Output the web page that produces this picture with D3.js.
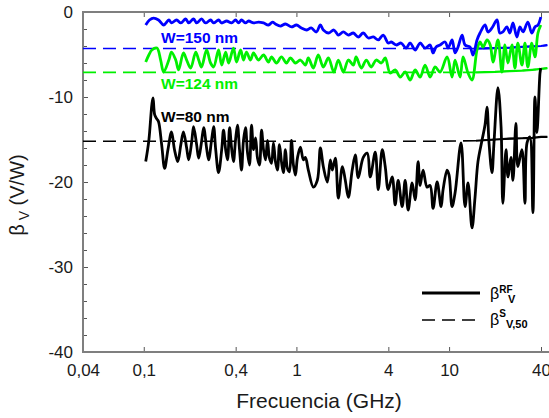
<!DOCTYPE html>
<html>
<head>
<meta charset="utf-8">
<script src="https://cdnjs.cloudflare.com/ajax/libs/d3/7.8.5/d3.min.js"></script>
<style>
  body { margin: 0; background: #fff; }
  svg { font-family: "Liberation Sans", Arial, sans-serif; }
</style>
</head>
<body>
<script>
// frequency (GHz) and beta (V/W)
var rf80 = [[0.103,-17.6],[0.108,-15.1],[0.113,-10.9],[0.115,-10.1],[0.118,-12.1],[0.122,-12.6],[0.125,-12.9],[0.131,-15.6],[0.137,-18.4],[0.144,-16.2],[0.152,-14.1],[0.159,-16.2],[0.167,-17.6],[0.175,-15.6],[0.182,-14.1],[0.191,-16.0],[0.197,-17.4],[0.206,-15.3],[0.212,-13.5],[0.222,-15.6],[0.229,-17.2],[0.239,-15.3],[0.247,-13.6],[0.258,-16.0],[0.266,-17.4],[0.278,-15.1],[0.287,-13.5],[0.296,-16.2],[0.309,-18.9],[0.324,-16.2],[0.333,-13.9],[0.344,-16.2],[0.354,-17.4],[0.365,-13.6],[0.376,-16.0],[0.387,-17.6],[0.399,-15.1],[0.411,-13.3],[0.424,-16.2],[0.437,-18.6],[0.450,-15.1],[0.464,-13.6],[0.478,-16.5],[0.493,-18.0],[0.508,-13.3],[0.524,-16.2],[0.540,-14.8],[0.556,-17.2],[0.573,-18.0],[0.591,-13.9],[0.609,-16.2],[0.628,-17.4],[0.646,-15.1],[0.666,-17.2],[0.687,-17.8],[0.707,-15.4],[0.729,-17.6],[0.751,-18.6],[0.774,-15.6],[0.798,-17.6],[0.822,-18.9],[0.847,-16.2],[0.873,-18.4],[0.900,-18.8],[0.928,-15.1],[0.956,-18.0],[0.985,-19.2],[1.015,-17.2],[1.062,-15.9],[1.111,-17.4],[1.145,-17.1],[1.197,-18.6],[1.291,-20.6],[1.371,-19.8],[1.435,-16.0],[1.501,-18.2],[1.594,-20.0],[1.668,-17.4],[1.719,-18.6],[1.799,-17.2],[1.882,-21.9],[2.000,-18.2],[2.09,-19.8],[2.188,-21.8],[2.32,-18.6],[2.430,-16.8],[2.541,-19.5],[2.741,-17.1],[2.911,-16.6],[3.046,-19.4],[3.283,-16.5],[3.436,-20.9],[3.649,-16.2],[3.818,-18.2],[3.993,-20.9],[4.240,-19.4],[4.436,-22.7],[4.640,-19.8],[4.929,-22.9],[5.156,-19.8],[5.395,-23.3],[5.729,-20.1],[5.993,-22.1],[6.269,-17.6],[6.460,-20.4],[6.758,-18.6],[7.178,-20.6],[7.509,-20.4],[7.855,-23.1],[8.347,-20.0],[8.865,-22.9],[9.136,-20.9],[9.703,-18.6],[10.0,-19.2],[10.46,-22.9],[10.94,-21.3],[11.98,-15.4],[12.72,-22.9],[13.31,-20.1],[14.13,-25.4],[14.79,-21.8],[15.46,-17.6],[16.43,-15.1],[17.19,-13.3],[17.72,-11.2],[18.26,-15.4],[19.10,-18.9],[19.68,-15.4],[20.9,-8.9],[21.9,-13.5],[22.5,-22.5],[23.6,-16.2],[24.3,-19.4],[25.4,-17.1],[26.2,-19.8],[27.4,-13.1],[28.2,-18.2],[30.0,-16.2],[31.4,-22.5],[32.4,-15.4],[33.8,-14.7],[35.4,-23.6],[36.5,-10.0],[37.6,-14.2],[39.4,-7.2],[39.9,-6.6]];

var rf150 = [[0.103,-1.53],[0.109,-0.94],[0.116,-0.71],[0.125,-0.94],[0.135,-1.53],[0.146,-0.94],[0.152,-1.29],[0.164,-0.94],[0.175,-1.29],[0.188,-0.82],[0.197,-1.29],[0.212,-0.82],[0.222,-1.29],[0.239,-0.82],[0.254,-1.29],[0.274,-0.94],[0.287,-1.29],[0.309,-0.94],[0.324,-1.29],[0.349,-1.06],[0.376,-1.29],[0.399,-0.94],[0.418,-1.29],[0.437,-0.94],[0.464,-1.29],[0.486,-1.06],[0.524,-1.29],[0.564,-1.18],[0.609,-1.29],[0.656,-1.53],[0.697,-1.18],[0.729,-1.41],[0.786,-1.65],[0.847,-1.41],[0.928,-1.76],[1.00,-1.53],[1.078,-1.88],[1.17,-2.12],[1.25,-1.88],[1.35,-2.35],[1.435,-1.53],[1.501,-2.12],[1.62,-2.47],[1.76,-2.12],[1.882,-2.71],[2.03,-2.35],[2.188,-2.71],[2.36,-2.47],[2.541,-2.94],[2.741,-2.47],[2.96,-3.06],[3.19,-2.94],[3.436,-3.29],[3.70,-2.71],[3.993,-3.65],[4.18,-3.53],[4.50,-3.88],[4.85,-3.65],[5.23,-4.24],[5.56,-3.65],[5.993,-4.47],[6.460,-3.65],[6.96,-4.24],[7.509,-3.88],[7.855,-4.82],[8.22,-4.12],[8.73,-3.88],[9.42,-3.53],[9.85,-4.24],[10.46,-3.29],[10.94,-4.82],[11.45,-4.12],[12.17,-2.71],[12.72,-3.88],[13.71,-4.12],[14.35,-5.06],[15.24,-3.29],[15.94,-2.47],[17.19,-1.53],[17.99,-2.35],[19.10,-1.88],[20.6,-0.94],[21.5,-2.47],[22.5,-2.35],[23.9,-1.76],[25.0,-2.47],[26.2,-1.29],[27.8,-2.94],[29.1,-1.76],[30.5,-2.35],[32.8,-1.18],[34.8,-2.47],[36.5,-1.76],[38.2,-1.53],[39.9,-0.59]];

var rf124 = [[0.103,-5.88],[0.108,-5.06],[0.113,-4.47],[0.122,-4.24],[0.129,-5.65],[0.135,-7.06],[0.146,-5.65],[0.152,-4.71],[0.162,-5.65],[0.169,-6.82],[0.182,-4.82],[0.191,-5.65],[0.203,-6.59],[0.219,-4.71],[0.229,-5.65],[0.239,-6.47],[0.258,-4.47],[0.274,-6.0],[0.287,-6.47],[0.309,-4.47],[0.324,-6.24],[0.344,-4.71],[0.36,-6.0],[0.387,-4.24],[0.405,-5.88],[0.431,-4.47],[0.450,-5.65],[0.471,-4.71],[0.500,-5.65],[0.524,-4.82],[0.564,-5.65],[0.609,-5.06],[0.656,-5.88],[0.687,-5.29],[0.740,-6.0],[0.798,-5.29],[0.860,-6.0],[0.914,-5.41],[0.985,-6.0],[1.062,-5.65],[1.145,-6.24],[1.197,-5.41],[1.291,-6.59],[1.39,-5.06],[1.501,-6.47],[1.62,-5.41],[1.76,-7.06],[1.882,-5.65],[2.03,-7.06],[2.188,-5.65],[2.36,-6.24],[2.46,-5.29],[2.66,-6.59],[2.87,-5.65],[3.09,-6.47],[3.33,-5.65],[3.60,-6.0],[3.818,-5.41],[4.11,-7.18],[4.436,-6.82],[4.79,-7.65],[5.156,-7.06],[5.56,-8.0],[5.993,-6.82],[6.460,-7.65],[6.96,-6.24],[7.509,-7.65],[8.10,-6.47],[8.73,-7.06],[9.703,-5.29],[10.46,-7.65],[10.94,-5.65],[11.80,-7.65],[12.35,-5.29],[13.31,-7.18],[14.13,-8.0],[15.24,-4.47],[15.94,-3.53],[16.7,-4.12],[17.72,-3.29],[18.6,-3.88],[19.4,-5.88],[20.9,-3.29],[22.2,-7.06],[23.2,-3.88],[24.3,-6.0],[25.8,-3.88],[27.0,-6.59],[28.2,-3.65],[30.0,-6.24],[31.4,-3.65],[32.8,-6.47],[34.8,-3.65],[36.5,-5.29],[38.2,-2.47],[39.9,-1.53]];

// static (S-parameter) beta, 50 ohm
var freqS = [0.04, 2, 8, 15, 20, 25, 30, 35, 40, 44];
var betaS150 = [-4.3, -4.3, -4.3, -4.3, -4.25, -4.2, -4.1, -4.05, -4.0, -3.9];
var betaS124 = [-7.1, -7.1, -7.1, -7.1, -7.05, -6.95, -6.9, -6.8, -6.7, -6.6];
var betaS80 = [-15.2, -15.2, -15.2, -15.15, -15.0, -14.9, -14.85, -14.8, -14.7, -14.7];

var xTicks = [0.04, 0.1, 0.4, 1, 4, 10, 40];
var yTicks = [-40, -30, -20, -10, 0];
var yMinor = [-38,-36,-34,-32,-28,-26,-24,-22,-18,-16,-14,-12,-8,-6,-4,-2];

var blue = '#0000ff', green = '#00f000', axisGray = '#7f7f7f';

var svg = d3.select('body').append('svg')
    .attr('width', 549)
    .attr('height', 418);

var x = d3.scaleLog().domain([0.04, 40]).range([83, 541]);
var y = d3.scaleLinear().domain([-40, 0]).range([352, 12]);

// axes (ticks point inside)
var gx = svg.append('g').attr('transform', 'translate(0,352)')
    .call(d3.axisBottom(x).tickValues(xTicks).tickSize(-5).tickSizeOuter(0).tickPadding(12)
      .tickFormat(function(d){ return String(d).replace('.', ','); }));
gx.selectAll('.tick').filter(function(d){ return d === 0.04; }).select('line').remove();

var gt = svg.append('g').attr('transform', 'translate(0,12)')
    .call(d3.axisTop(x).tickValues(xTicks.slice(1)).tickSize(-5).tickFormat(''));

var gy = svg.append('g').attr('transform', 'translate(83,0)')
    .call(d3.axisLeft(y).tickValues(yTicks).tickSize(-5).tickPadding(10)
      .tickFormat(function(d){ return String(d); }));
var gym = svg.append('g').attr('transform', 'translate(83,0)')
    .call(d3.axisLeft(y).tickValues(yMinor).tickSize(-4).tickFormat(''));

svg.selectAll('.domain').remove();
svg.selectAll('.tick line').attr('stroke', '#555');
svg.selectAll('.tick text').attr('font-size', 17).attr('fill', '#1a1a1a')
   .attr('font-family', '"Liberation Sans", Arial, sans-serif');

// frame lines
svg.append('line').attr('x1', 83).attr('x2', 83).attr('y1', 12).attr('y2', 352)
   .attr('stroke', axisGray).attr('stroke-width', 2);
svg.append('line').attr('x1', 82).attr('x2', 549).attr('y1', 352).attr('y2', 352)
   .attr('stroke', axisGray).attr('stroke-width', 2);
svg.append('line').attr('x1', 82).attr('x2', 549).attr('y1', 12).attr('y2', 12)
   .attr('stroke', axisGray).attr('stroke-width', 2);

// static beta lines
var sLine = d3.line().x(function(d){ return x(d[0]); }).y(function(d){ return y(d[1]); });
var sSets = [[betaS150, blue], [betaS124, green], [betaS80, '#000']];
sSets.forEach(function(s) {
  var pts = freqS.map(function(f, i){ return [f, s[0][i]]; });
  svg.append('path').attr('d', sLine(pts)).attr('fill', 'none')
     .attr('stroke', s[1]).attr('stroke-width', 1.6).attr('stroke-dasharray', '13,7');
  svg.append('path').attr('d', sLine(pts.filter(function(p){ return p[0] >= 15; })))
     .attr('fill', 'none').attr('stroke', s[1]).attr('stroke-width', 2.2);
});

// RF curves
var rfLine = d3.line().curve(d3.curveCatmullRom.alpha(0.5))
    .x(function(d){ return x(d[0]); }).y(function(d){ return y(d[1]); });

svg.append('path').attr('d', rfLine(rf80)).attr('fill', 'none')
   .attr('stroke', '#000').attr('stroke-width', 2.8).attr('stroke-linejoin', 'round');
svg.append('path').attr('d', rfLine(rf124)).attr('fill', 'none')
   .attr('stroke', green).attr('stroke-width', 2.8).attr('stroke-linejoin', 'round');
svg.append('path').attr('d', rfLine(rf150)).attr('fill', 'none')
   .attr('stroke', blue).attr('stroke-width', 2.8).attr('stroke-linejoin', 'round');

// curve labels
svg.append('text').attr('x', 161).attr('y', 43).attr('font-size', 15.5).attr('font-weight', 'bold')
   .attr('fill', blue).text('W=150 nm');
svg.append('text').attr('x', 161).attr('y', 89).attr('font-size', 15.5).attr('font-weight', 'bold')
   .attr('fill', green).text('W=124 nm');
svg.append('text').attr('x', 161).attr('y', 122).attr('font-size', 15.5).attr('font-weight', 'bold')
   .attr('fill', '#000').text('W=80 nm');

// axis titles
svg.append('text').attr('x', 319).attr('y', 408).attr('text-anchor', 'middle')
   .attr('font-size', 21).attr('fill', '#1a1a1a').text('Frecuencia (GHz)');

var yt = svg.append('text').attr('transform', 'translate(24,195) rotate(-90)')
   .attr('text-anchor', 'middle').attr('font-size', 20).attr('fill', '#1a1a1a');
yt.append('tspan').text('β');
yt.append('tspan').attr('font-size', 14).attr('dy', 5).text(' V');
yt.append('tspan').attr('dy', -5).text(' (V/W)');

// legend
svg.append('line').attr('x1', 422).attr('x2', 480).attr('y1', 293).attr('y2', 293)
   .attr('stroke', '#000').attr('stroke-width', 3);
svg.append('line').attr('x1', 422).attr('x2', 482).attr('y1', 320).attr('y2', 320)
   .attr('stroke', '#000').attr('stroke-width', 1.6).attr('stroke-dasharray', '13,7');

var l1 = svg.append('text').attr('x', 490).attr('y', 299).attr('font-size', 16).attr('fill', '#000');
l1.append('tspan').text('β');
l1.append('tspan').attr('font-size', 10).attr('font-weight', 'bold').attr('dy', -6).text('RF');
l1.append('tspan').attr('x', 508).attr('font-size', 11).attr('font-weight', 'bold').attr('dy', 10).text('V');

var l2 = svg.append('text').attr('x', 490).attr('y', 325).attr('font-size', 16).attr('fill', '#000');
l2.append('tspan').text('β');
l2.append('tspan').attr('font-size', 10).attr('font-weight', 'bold').attr('dy', -8).text('S');
l2.append('tspan').attr('font-size', 11).attr('font-weight', 'bold').attr('dy', 11).text('V,50');
</script>
</body>
</html>
